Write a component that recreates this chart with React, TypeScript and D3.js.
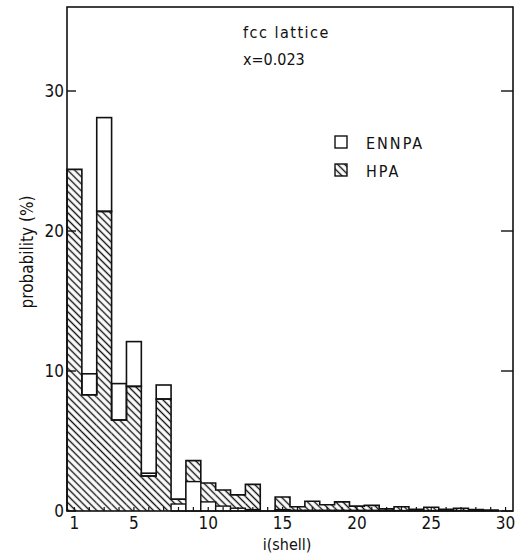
import * as d3 from 'd3'

// shell index i = 1..29
const shells = d3.range(1, 30)
// HPA probability (%) per shell (hatched)
const hpa = [24.4, 8.3, 21.4, 6.5, 8.9, 2.5, 8.0, 0.85, 3.6, 2.0, 1.5, 1.15, 1.9, 0, 1.0, 0.3, 0.7, 0.45, 0.65, 0.35, 0.4, 0.15, 0.3, 0.12, 0.27, 0.12, 0.2, 0.1, 0.06]
// ENNPA probability (%) per shell (open)
const ennpa = [0, 9.8, 28.1, 9.1, 12.1, 2.7, 9.0, 0.5, 2.1, 0.65, 0.35, 0.2, 0.1, 0, 0.1, 0.05, 0.05, 0.05, 0.05, 0.05, 0.05, 0.03, 0.03, 0.03, 0.03, 0.03, 0.03, 0.02, 0.02]
const xTicks = [1, 5, 10, 15, 20, 25, 30]
const yTicks = [0, 10, 20, 30]

const W = 518
const H = 554
const M = { left: 67, right: 5, top: 7, bottom: 43 }
const FONT = "'DejaVu Sans Condensed', 'Liberation Sans Narrow', 'DejaVu Sans', sans-serif"
const INK = '#111'

export default function App() {
  const x = d3.scaleLinear().domain([0.5, 30.5]).range([M.left, W - M.right])
  const y = d3.scaleLinear().domain([0, 36]).range([H - M.bottom, M.top])
  const y0 = y(0)
  const bw = x(1) - x(0)

  const bars = shells.map((s, i) => ({ s, h: hpa[i], e: ennpa[i] }))

  // step outline of the hatched histogram
  const stepPts: [number, number][] = [[x(0.5), y0]]
  bars.forEach(d => stepPts.push([x(d.s - 0.5), y(d.h)]))
  stepPts.push([x(shells[shells.length - 1] + 0.5), y0])
  const stepLine = d3.line<[number, number]>().curve(d3.curveStepAfter)

  return (
    <svg width={W} height={H} style={{ position: 'absolute', left: 0, top: 0, background: '#fff' }}>
      <defs>
        <pattern id="hatch" patternUnits="userSpaceOnUse" width={5} height={5} patternTransform="rotate(-45)">
          <line x1={2.5} y1={0} x2={2.5} y2={5} stroke={INK} strokeWidth={1.4} />
        </pattern>
      </defs>

      {/* hatched fill */}
      {bars.filter(d => d.h > 0).map(d => (
        <rect key={'hb' + d.s} x={x(d.s) - bw / 2} y={y(d.h)} width={bw} height={y0 - y(d.h)}
          fill="url(#hatch)" />
      ))}
      {/* open boxes above the hatched part */}
      {bars.filter(d => d.e > d.h).map(d => (
        <rect key={'eb' + d.s} x={x(d.s) - bw / 2} y={y(d.e)} width={bw} height={y(d.h) - y(d.e)}
          fill="#fff" stroke={INK} strokeWidth={1.6} />
      ))}
      {/* hatched outline */}
      <path d={stepLine(stepPts) ?? ''} fill="none" stroke={INK} strokeWidth={1.6} />
      {/* open bars lower than the hatched one, drawn on top */}
      {bars.filter(d => d.e > 0 && d.e <= d.h).map(d => (
        <rect key={'ef' + d.s} x={x(d.s) - bw / 2} y={y(d.e)} width={bw} height={y0 - y(d.e)}
          fill="#fff" stroke={INK} strokeWidth={1.4} />
      ))}

      {/* frame */}
      <rect x={M.left} y={M.top} width={W - M.left - M.right} height={y0 - M.top}
        fill="none" stroke={INK} strokeWidth={1.6} />

      {/* y ticks, both sides */}
      {yTicks.map(t => (
        <g key={'yt' + t}>
          <line x1={M.left} x2={M.left + 9} y1={y(t)} y2={y(t)} stroke={INK} strokeWidth={1.4} />
          <line x1={W - M.right} x2={W - M.right - 12} y1={y(t)} y2={y(t)} stroke={INK} strokeWidth={1.4} />
          <text x={M.left - 3} y={y(t) + 6} textAnchor="end" fontFamily={FONT} fontSize={17} fill={INK}>{t}</text>
        </g>
      ))}

      {/* x ticks */}
      {d3.range(1, 31).map(t => (
        <line key={'xt' + t} x1={x(t)} x2={x(t)} y1={y0} y2={y0 - 4} stroke={INK} strokeWidth={1.2} />
      ))}
      {xTicks.map(t => (
        <text key={'xl' + t} x={x(t)} y={y0 + 18} textAnchor="middle" fontFamily={FONT} fontSize={17} fill={INK}>{t}</text>
      ))}

      {/* axis titles */}
      <text x={287} y={H - 4} textAnchor="middle" fontFamily={FONT} fontSize={16} fill={INK}>i(shell)</text>
      <text transform={`translate(33,252) rotate(-90)`} textAnchor="middle" fontFamily={FONT} fontSize={17} fill={INK}>probability (%)</text>

      {/* annotations */}
      <text x={243} y={38} fontFamily={FONT} fontSize={16} letterSpacing={1.5} fill={INK}>fcc lattice</text>
      <text x={243} y={65} fontFamily={FONT} fontSize={16} fill={INK}>x=0.023</text>

      {/* legend */}
      <rect x={335} y={136} width={12} height={12} fill="#fff" stroke={INK} strokeWidth={1.4} />
      <text x={366} y={149} fontFamily={FONT} fontSize={16} letterSpacing={2} fill={INK}>ENNPA</text>
      <rect x={335} y={164} width={12} height={12} fill="url(#hatch)" stroke={INK} strokeWidth={1.4} />
      <text x={366} y={177} fontFamily={FONT} fontSize={16} letterSpacing={2} fill={INK}>HPA</text>
    </svg>
  )
}
